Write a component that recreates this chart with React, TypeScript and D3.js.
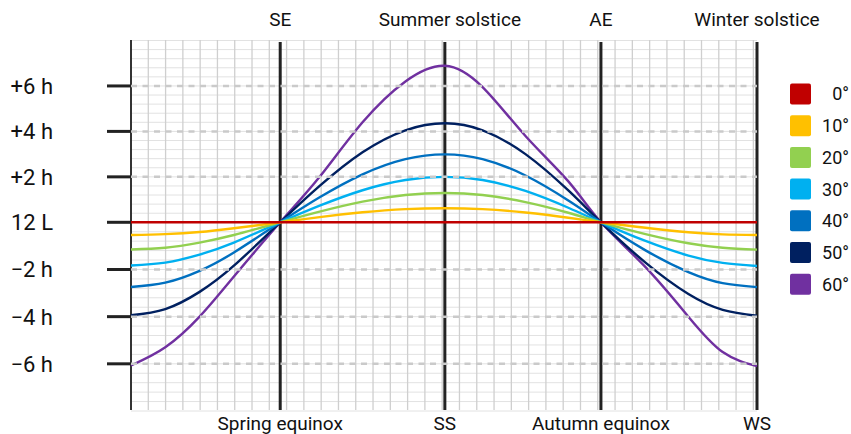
import React from 'react';
import * as d3 from 'd3';

// days counted from the winter solstice
const days = [0, 20, 40, 60, 87, 110, 135, 160, 183, 205, 230, 255, 274, 300, 325, 345, 365];

// offset of sunset from 12 L, hours
const lat0 = [0, 0, 0, 0, 0, 0, 0, 0, 0, 0, 0, 0, 0, 0, 0, 0, 0];
const lat10 = [-0.54, -0.5, -0.41, -0.25, 0, 0.23, 0.44, 0.58, 0.62, 0.58, 0.43, 0.2, 0, -0.23, -0.42, -0.51, -0.54];
const lat20 = [-1.15, -1.08, -0.86, -0.54, 0, 0.47, 0.91, 1.2, 1.29, 1.2, 0.89, 0.42, 0, -0.5, -0.89, -1.08, -1.16];
const lat30 = [-1.83, -1.71, -1.37, -0.86, 0, 0.73, 1.41, 1.86, 2.0, 1.86, 1.38, 0.64, 0, -0.79, -1.41, -1.72, -1.85];
const lat40 = [-2.74, -2.56, -2.06, -1.28, 0, 1.1, 2.11, 2.78, 2.99, 2.78, 2.06, 0.96, 0, -1.19, -2.11, -2.58, -2.75];
const lat50 = [-3.94, -3.68, -2.95, -1.84, 0, 1.6, 3.08, 4.05, 4.36, 4.05, 3.0, 1.4, 0, -1.71, -3.04, -3.71, -3.96];
const lat60 = [-6.07, -5.3, -4.0, -2.3, 0, 2.0, 4.4, 6.2, 6.89, 5.95, 3.8, 1.8, 0, -1.9, -4.0, -5.5, -6.1];

const seriesNames = ['0°', '10°', '20°', '30°', '40°', '50°', '60°'];
const seriesColors = ['#c00000', '#ffc000', '#92d050', '#00b0f0', '#0070c0', '#002060', '#7030a0'];
const seriesValues = [lat0, lat10, lat20, lat30, lat40, lat50, lat60];

const eventDays = [87, 183, 274, 365];
const topLabels = ['SE', 'Summer solstice', 'AE', 'Winter solstice'];
const bottomLabels = ['Spring equinox', 'SS', 'Autumn equinox', 'WS'];

const yTicks = [6, 4, 2, 0, -2, -4, -6];
const yTickLabels = ['+6 h', '+4 h', '+2 h', '12 L', '−2 h', '−4 h', '−6 h'];
const dashedLevels = [6, 4, 2, -2, -4, -6];

const W = 851;
const H = 434;

const App = () => {
  const x = d3.scaleLinear().domain([0, 365]).range([131, 757]);
  // the lower half of the scale is drawn a bit taller than the upper half
  const y = d3.scaleLinear().domain([-8, 0, 8]).range([411, 222.3, 40.5]);

  const line = d3
    .line<number>()
    .x((_, i) => x(days[i]))
    .y(d => y(d))
    .curve(d3.curveNatural);

  const gridX = d3.range(0, 366, 10.08);
  const gridY = d3.range(-8, 8.01, 0.4);
  const font = 'Roboto, "Noto Sans", sans-serif';

  return (
    <svg
      width={W}
      height={H}
      style={{ position: 'absolute', left: 0, top: 0, background: '#fff' }}
      fontFamily={font}
    >
      {/* graph paper */}
      <g>
        {gridY.map((v, i) => (
          <line key={'gy' + i} x1={x(0)} x2={x(365)} y1={y(v)} y2={y(v)} stroke="#e2e2e2" strokeWidth={1} />
        ))}
        {gridX.map((d, i) => (
          <line key={'gx' + i} x1={x(d)} x2={x(d)} y1={40} y2={410} stroke="#cfcfcf" strokeWidth={1.3} />
        ))}
      </g>

      {/* left axis */}
      <line x1={131} x2={131} y1={40} y2={410} stroke="#333" strokeWidth={2} />
      {yTicks.map((t, i) => (
        <g key={'yt' + i}>
          <line x1={107} x2={131} y1={y(t)} y2={y(t)} stroke="#222" strokeWidth={3} />
          <text x={53} y={y(t)} dy="0.36em" textAnchor="end" fontSize={22} fill="#111">
            {yTickLabels[i]}
          </text>
        </g>
      ))}

      {/* event lines */}
      {eventDays.map((d, i) => (
        <g key={'ev' + i}>
          <line x1={x(d)} x2={x(d)} y1={42} y2={410} stroke="#222" strokeWidth={3} />
          <text x={x(d) + (i === 1 ? 5 : 0)} y={26} textAnchor="middle" fontSize={19} fill="#111">
            {topLabels[i]}
          </text>
          <text x={x(d)} y={430} textAnchor="middle" fontSize={19} fill="#111">
            {bottomLabels[i]}
          </text>
        </g>
      ))}

      {/* curves */}
      {seriesValues
        .map((vals, i) => ({ vals, i }))
        .reverse()
        .map(({ vals, i }) => (
          <path key={'s' + i} d={line(vals) || ''} fill="none" stroke={seriesColors[i]} strokeWidth={2.4} />
        ))}

      {/* dashed hour levels on top */}
      {dashedLevels.map((v, i) => (
        <line
          key={'dl' + i}
          x1={x(0)}
          x2={x(365)}
          y1={y(v)}
          y2={y(v)}
          stroke="#cacaca"
          strokeWidth={2.5}
          strokeDasharray="6 5.5"
        />
      ))}

      {/* legend */}
      {seriesNames.map((name, i) => (
        <g key={'lg' + i} transform={`translate(790,${94 + i * 31.7})`}>
          <rect x={0} y={-10.5} width={21} height={21} rx={2} fill={seriesColors[i]} />
          <text x={59} y={0} dy="0.36em" textAnchor="end" fontSize={18} fill="#111">
            {name}
          </text>
        </g>
      ))}
    </svg>
  );
};

export default App;
